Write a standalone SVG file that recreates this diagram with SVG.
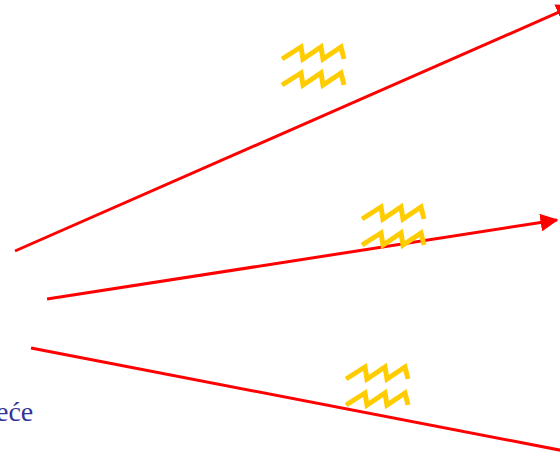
<svg xmlns="http://www.w3.org/2000/svg" width="560" height="462" viewBox="0 0 560 462">
<style>
.ray{stroke:#FF0000;stroke-width:3;fill:none}
.zz{stroke:#FFCC00;stroke-width:5;fill:none;stroke-linejoin:miter;stroke-miterlimit:4}
</style>
<defs>
<marker id="ah" markerWidth="6" markerHeight="6" refX="5.5" refY="3" orient="auto" markerUnits="strokeWidth">
<path d="M0,0 L6,3 L0,6 Z" fill="#FF0000"/>
</marker>
<path id="zig" d="M0,12 L19,0 L21,12 L39,0 L41,12 L59,0 L62,12"/>
</defs>
<rect width="560" height="462" fill="#FFFFFF"/>
<g id="connectors">
<line class="ray" x1="15" y1="251" x2="573" y2="6" marker-end="url(#ah)"/>
<line class="ray" x1="47" y1="299" x2="557" y2="220" marker-end="url(#ah)"/>
<line class="ray" x1="31" y1="348" x2="575" y2="453"/>
</g>
<g id="waves1">
<use href="#zig" class="zz" x="282" y="47"/>
<use href="#zig" class="zz" x="282" y="73"/>
</g>
<g id="waves2">
<use href="#zig" class="zz" x="362" y="207"/>
<use href="#zig" class="zz" x="362" y="233"/>
</g>
<g id="waves3">
<use href="#zig" class="zz" x="346" y="367"/>
<use href="#zig" class="zz" x="346" y="393"/>
</g>
<g id="label">
<text x="-4" y="421" font-family="'Liberation Serif', 'Times New Roman', serif" font-size="28" fill="#333399">eće</text>
</g>
</svg>
